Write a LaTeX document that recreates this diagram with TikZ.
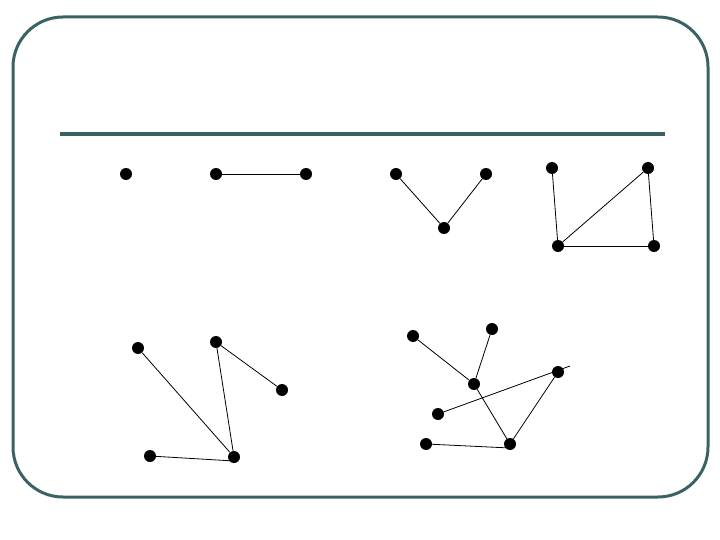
\documentclass[tikz,border=0pt]{standalone}
\definecolor{frame}{HTML}{3B6262}
\begin{document}
\begin{tikzpicture}[x=1pt,y=-1pt,
  vtx/.style={circle,fill=black,inner sep=0pt,minimum size=12pt},
  edge/.style={draw=black,line width=0.8pt}]
\useasboundingbox (0,0) rectangle (720,540);
\draw[frame,line width=3pt,rounded corners=50pt] (13,17) rectangle (708,497);
\draw[frame,line width=4pt] (60,134.5) -- (665,134.5);
% group 1
\node[vtx] (a1) at (126,174) {};
% group 2
\node[vtx] (b1) at (216,174) {};
\node[vtx] (b2) at (306,174) {};
\draw[edge] (b1) -- (b2);
% group 3
\node[vtx] (c1) at (396,174) {};
\node[vtx] (c2) at (486,174) {};
\node[vtx] (c3) at (444,228) {};
\draw[edge] (c1) -- (c3) -- (c2);
% group 4
\node[vtx] (d1) at (552,168) {};
\node[vtx] (d2) at (648,168) {};
\node[vtx] (d3) at (558,246) {};
\node[vtx] (d4) at (654,246) {};
\draw[edge] (d1) -- (d3);
\draw[edge] (d2) -- (d3);
\draw[edge] (d3) -- (d4);
\draw[edge] (d2) -- (d4);
% group 5
\node[vtx] (e1) at (138,348) {};
\node[vtx] (e2) at (216,342) {};
\node[vtx] (e3) at (282,390) {};
\node[vtx] (e4) at (150,456) {};
\node[vtx] (e5) at (234,457) {};
\draw[edge] (e1) -- (e5);
\draw[edge] (e2) -- (e5);
\draw[edge] (e2) -- (e3);
\draw[edge] (e4.center) -- ([yshift=-4pt]e5.center);
% group 6
\node[vtx] (f1) at (413,336) {};
\node[vtx] (f2) at (492,329) {};
\node[vtx] (f3) at (474,384) {};
\node[vtx] (f4) at (558,372) {};
\node[vtx] (f5) at (438,414) {};
\node[vtx] (f6) at (426,444) {};
\node[vtx] (f7) at (510,444) {};
\coordinate (fx) at (570,366);
\draw[edge] (f1) -- (f3);
\draw[edge] (f2) -- (f3);
\draw[edge] (f3) -- (f7);
\draw[edge] (f5) -- (fx);
\draw[edge] (f4) -- (f7);
\draw[edge] (f6.center) -- ([yshift=-4pt]f7.center);
\end{tikzpicture}
\end{document}
